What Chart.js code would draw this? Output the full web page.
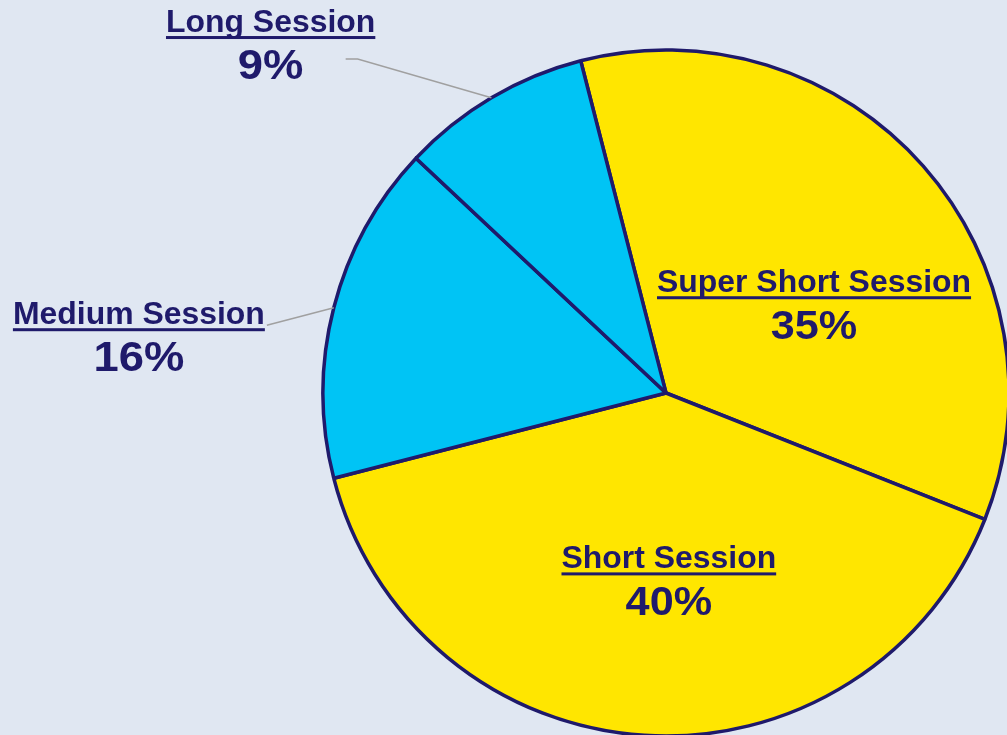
<!DOCTYPE html>
<html>
<head>
<meta charset="utf-8">
<script src="https://cdn.jsdelivr.net/npm/chart.js@4.4.1/dist/chart.umd.min.js"></script>
<style>
  html, body { margin: 0; padding: 0; background: #e0e7f2; }
  #wrap { width: 1007px; height: 735px; }
</style>
</head>
<body>
<div id="wrap"><canvas id="pieChart"></canvas></div>
<script>
// dados do grafico
const categorias = ["Super Short Session", "Short Session", "Medium Session", "Long Session"];
const valores = [35, 40, 16, 9];
const cores = ["#ffe600", "#ffe600", "#00c4f5", "#00c4f5"];

const azul = "#1f1a6b";
const fonte = "'Liberation Sans', Arial, sans-serif";

// onde fica cada rotulo: desvio de angulo (graus) e distancia (fração do raio)
const posRotulos = [
  { shift: 8.5, dist: 0.514, linha: null },
  { shift: -4.5, dist: 0.526, linha: null },
  { shift: -7.5, dist: 1.548, linha: "sublinhado" },
  { shift: -17.4, dist: 1.551, linha: "cotovelo" },
];

const rotulosPlugin = {
  id: "rotulos",
  afterDatasetsDraw(chart) {
    const c = chart.ctx;
    const meta = chart.getDatasetMeta(0);
    const total = valores.reduce((a, b) => a + b, 0);
    meta.data.forEach((arc, i) => {
      const p = posRotulos[i];
      const meio = (arc.startAngle + arc.endAngle) / 2;
      const ang = meio + (p.shift * Math.PI) / 180;
      const r = arc.outerRadius;
      const ax = arc.x + Math.cos(ang) * r * p.dist;
      const ay = arc.y + Math.sin(ang) * r * p.dist;

      c.save();
      c.fillStyle = azul;
      c.textAlign = "center";
      c.textBaseline = "alphabetic";

      // nome, um pouco mais largo como no original
      const nome = categorias[i];
      c.font = "bold 31px " + fonte;
      c.save();
      c.translate(ax, ay);
      c.scale(1.03, 1);
      const w = c.measureText(nome).width * 1.03;
      c.fillText(nome, 0, -5);
      c.restore();
      c.fillRect(ax - w / 2, ay - 1, w, 3);

      const pct = Math.round((valores[i] / total) * 100) + "%";
      c.font = "bold " + (p.dist > 1 ? 42 : 40) + "px " + fonte;
      c.save();
      c.translate(ax, ay + 42);
      c.scale(1.08, 1);
      c.fillText(pct, 0, 0);
      c.restore();

      // linhas de chamada
      if (p.linha) {
        const ex = arc.x + Math.cos(meio) * r;
        const ey = arc.y + Math.sin(meio) * r;
        c.strokeStyle = "#a0a0a0";
        c.lineWidth = 1.5;
        c.beginPath();
        c.moveTo(ex, ey);
        if (p.linha === "sublinhado") {
          c.lineTo(ax + w / 2 + 2, ay - 4);
        } else {
          c.lineTo(ax + 87, ay + 22);
          c.lineTo(ax + 75, ay + 22);
        }
        c.stroke();
      }
      c.restore();
    });
  },
};

let ctx = document.getElementById("pieChart");

let pieChart = new Chart(ctx, {
  type: "pie",
  data: {
    labels: categorias,
    datasets: [
      {
        data: valores,
        backgroundColor: cores,
        borderColor: azul,
        borderWidth: 3.5,
        clip: false,
      },
    ],
  },
  options: {
    responsive: true,
    maintainAspectRatio: false,
    animation: false,
    events: [],
    rotation: -14.4,
    radius: 343,
    layout: {
      padding: { left: 325, right: 0, top: 51, bottom: 0 },
    },
    plugins: {
      legend: { display: false },
      tooltip: { enabled: false },
    },
  },
  plugins: [rotulosPlugin],
});
</script>
</body>
</html>
